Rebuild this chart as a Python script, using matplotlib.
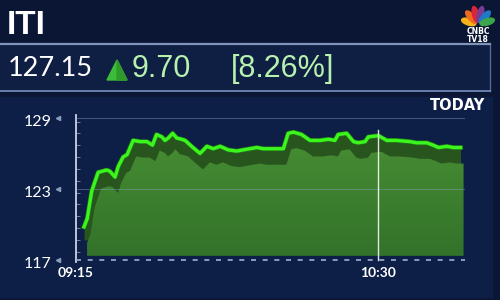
import numpy as np
import matplotlib
matplotlib.use("Agg")
import matplotlib.pyplot as plt
from matplotlib.patches import Rectangle, Polygon, PathPatch, Ellipse
from matplotlib.lines import Line2D
from matplotlib.transforms import offset_copy, blended_transform_factory
from matplotlib.colors import LinearSegmentedColormap
import matplotlib.patheffects as pe

# Kursdaten (Minuten nach 09:15, Preis)
minutes = [2.0, 2.8, 3.9, 5.5, 7.6, 8.4, 9.7, 10.5, 11.7, 12.7, 14.2, 15.9, 17.6, 19.0,
           20.0, 21.3, 22.1, 22.9, 24.0, 25.0, 26.2, 27.1, 28.7, 30.8, 32.5, 34.1, 35.8,
           37.8, 39.9, 41.5, 43.2, 44.9, 46.5, 48.2, 49.8, 51.5, 52.7, 54.0, 56.0, 58.1,
           60.6, 62.7, 64.3, 65.1, 67.2, 68.9, 70.1, 71.8, 72.6, 75.1, 77.2, 79.6, 82.9,
           84.6, 87.1, 88.7, 90.0, 92.1, 93.7, 95.5]
prices = [119.8, 120.5, 122.8, 124.4, 124.6, 124.5, 124.0, 124.9, 125.7, 125.9, 127.1, 127.0,
          127.0, 126.7, 127.6, 127.4, 127.1, 127.3, 127.7, 127.3, 127.2, 127.1, 126.6, 126.0,
          126.6, 126.4, 126.6, 126.3, 126.2, 126.3, 126.4, 126.5, 126.4, 126.4, 126.4, 126.4,
          127.7, 127.8, 127.6, 127.1, 127.1, 127.2, 127.1, 127.6, 127.7, 127.0, 126.9, 127.0,
          127.4, 127.5, 127.1, 127.1, 127.0, 126.9, 126.9, 126.7, 126.5, 126.6, 126.5, 126.5]

ytick_vals = [129, 123, 117]
xtick_pos = [0, 75]
xtick_labels = ["09:15", "10:30"]

name = "ITI"
last_price = "127.15"
change = "9.70"
change_pct = "[8.26%]"

plt.rcParams['font.family'] = ["Lato", "DejaVu Sans"]

fig = plt.figure(figsize=(5, 3), dpi=100)
fig.patch.set_facecolor('#0a1633')

def fx(px):
    return px / 500

def fy(py):
    return 1 - py / 300

# Hintergrundflächen
fig.add_artist(Rectangle((0, fy(297)), fx(492), 200 / 300, transform=fig.transFigure,
                         color='#0e1f47', zorder=0))
fig.add_artist(Rectangle((0, fy(91)), fx(490), 47 / 300, transform=fig.transFigure,
                         color='#0f1e43', zorder=0))
fig.add_artist(Line2D([0, fx(490)], [fy(44), fy(44)], color='#9db2d8', lw=1.6, alpha=0.8))
fig.add_artist(Line2D([0, fx(490)], [fy(91), fy(91)], color='#7f98c6', lw=1.4, alpha=0.8))
fig.add_artist(Line2D([fx(490), fx(490)], [fy(91), fy(44)], color='#7f98c6', lw=1, alpha=0.6))

# Kopfzeile
fig.text(fx(7), fy(26), name, fontsize=24, fontweight='bold', color='white',
         family=["Liberation Sans", "DejaVu Sans"], ha='left', va='center')
fig.text(fx(8), fy(69), last_price, fontsize=19.5, color='white', ha='left', va='center')
fig.add_artist(Polygon([[fx(107), fy(80)], [fx(127), fy(80)], [fx(117), fy(60)]],
                       closed=True, transform=fig.transFigure, color='#3dbb3a'))
fig.add_artist(Polygon([[fx(117), fy(80)], [fx(127), fy(80)], [fx(117), fy(60)]],
                       closed=True, transform=fig.transFigure, color='#2e9a2c'))
fig.text(fx(132), fy(69), change, fontsize=22, color='#b6f2ae',
         family=["Liberation Sans", "DejaVu Sans"], ha='left', va='center')
fig.text(fx(231), fy(69), change_pct, fontsize=22, color='#b6f2ae',
         family=["Liberation Sans", "DejaVu Sans"], ha='left', va='center')

# Logo
lax = fig.add_axes([fx(461), fy(28), fx(34), 23 / 300])
lax.set_xlim(-1.1, 1.1)
lax.set_ylim(-0.1, 1.25)
lax.axis('off')
feather_cols = ['#f6b21a', '#ee6a1f', '#d9263a', '#7a3c92', '#1f78c8', '#3aa54a']
for i, c in enumerate(feather_cols):
    ang = np.deg2rad(165 - i * 30)
    lax.add_patch(Ellipse((0.62 * np.cos(ang), 0.62 * np.sin(ang) + 0.1), 0.38, 0.95,
                          angle=np.rad2deg(ang) - 90, color=c))
fig.text(fx(478), fy(32), "CNBC", fontsize=5.5, fontweight='bold', color='white',
         ha='center', va='center', family="DejaVu Sans")
fig.text(fx(478), fy(39.5), "TV18", fontsize=5.5, fontweight='bold', color='white',
         ha='center', va='center', family="DejaVu Sans")

fig.text(fx(457), fy(105), "TODAY", fontsize=10.5, fontweight='bold', color='white',
         ha='center', va='center', family="DejaVu Sans")

# Chart
ax = fig.add_axes([fx(76), 38 / 300, fx(389), 147 / 300])
ax.set_facecolor('none')

base = 118.7
poly = ax.fill_between(minutes, base, prices, color='#28551e', lw=0, zorder=2)
shade = offset_copy(ax.transData, fig=fig, x=3, y=-16, units='dots')
patch = PathPatch(poly.get_paths()[0], transform=shade, fc='none', ec='none')
ax.add_patch(patch)
cmap = LinearSegmentedColormap.from_list('g', ['#31702a', '#4b9334'])
grad = np.linspace(0, 1, 256).reshape(-1, 1)
img = ax.imshow(grad, extent=[0, 96.6, 116.8, 129.25], origin='lower', aspect='auto',
                cmap=cmap, zorder=3)
img.set_clip_path(patch)

ax.plot(minutes, prices, color='#3cf51e', lw=2.4, zorder=6, solid_joinstyle='round',
        path_effects=[pe.Stroke(linewidth=3.4, foreground='#1e7a14'), pe.Normal()])

for v in [129, 123]:
    ax.axhline(v, color='#8a9bc0', lw=0.7, alpha=0.45, zorder=4)
ax.axhline(117, color='#9fb0d0', lw=1.2, dashes=(3, 4), zorder=4)
ax.plot([75, 75], [117, 128.0], color='white', lw=1, alpha=0.85, zorder=7)

ax.set_xlim(0, 96.6)
ax.set_ylim(116.83, 129.25)

for s in ['top', 'right', 'bottom']:
    ax.spines[s].set_visible(False)
ax.spines['left'].set_color('#c9d3e6')
ax.spines['left'].set_linewidth(1.3)
ax.set_xticks([])
ax.set_yticks([])
ax.set_yticks(np.arange(117.7, 129, 1), minor=True)
ax.tick_params(axis='y', which='minor', direction='in', length=3, color='#7f8fb0',
               labelleft=False)

ytr = blended_transform_factory(ax.transAxes, ax.transData)
for v in ytick_vals:
    ax.text(-0.062, v - 0.3, str(v), transform=ytr, ha='right', va='center',
            fontsize=11.5, color='white', clip_on=False)
    ax.plot([-0.046], [v], marker='<', ms=3, color='#8a9bc0', transform=ytr, clip_on=False)

xtr = blended_transform_factory(ax.transData, ax.transAxes)
for p, lab in zip(xtick_pos, xtick_labels):
    ax.text(p, -0.075, lab, transform=xtr, ha='center', va='center', fontsize=10,
            fontweight='bold', color='white', clip_on=False)

fig.savefig('out.png', dpi=100, facecolor=fig.get_facecolor())
